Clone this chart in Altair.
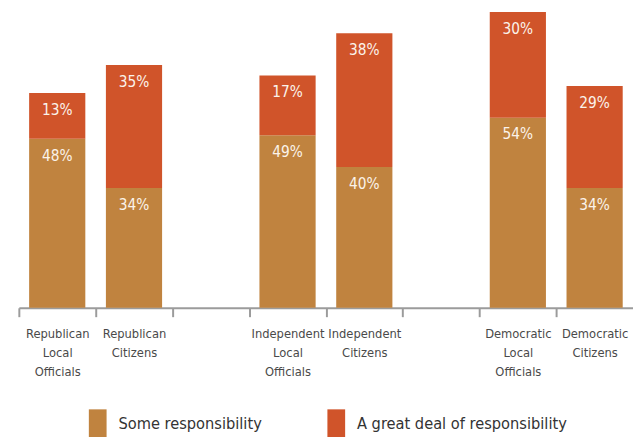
import altair as alt
import pandas as pd

categories = [
    "Republican|Local|Officials", "Republican|Citizens", "gap1",
    "Independent|Local|Officials", "Independent|Citizens", "gap2",
    "Democratic|Local|Officials", "Democratic|Citizens",
]
bar_categories = [c for c in categories if not c.startswith("gap")]
some_resp = [48, 34, 49, 40, 54, 34]
great_resp = [13, 35, 17, 38, 30, 29]
series = ["Some responsibility", "A great deal of responsibility"]
colors = ["#C0833F", "#D0542A"]

rows = []
for cat, s, g in zip(bar_categories, some_resp, great_resp):
    rows.append({"cat": cat, "series": series[0], "value": s, "rank": 0, "topv": s})
    rows.append({"cat": cat, "series": series[1], "value": g, "rank": 1, "topv": s + g})
df = pd.DataFrame(rows)
df["label"] = df["value"].astype(str) + "%"

FONT = "DejaVu Sans Condensed"
W = 623
STEP = W / len(categories)

x = alt.X("cat:N", scale=alt.Scale(domain=categories, paddingInner=0, paddingOuter=0),
          axis=alt.Axis(title=None, labelAngle=0, tickOffset=-STEP / 2, labelOffset=STEP / 2,
                        labelExpr="indexof(datum.value,'gap')==0 ? '' : split(datum.value,'|')"))
yscale = alt.Scale(domain=[0, 84], nice=False)

bars = alt.Chart(df).mark_bar(width=57).encode(
    x=x,
    y=alt.Y("value:Q", stack="zero", scale=yscale, axis=None),
    color=alt.Color("series:N", scale=alt.Scale(domain=series, range=colors),
                    legend=alt.Legend(title=None, orient="none", legendX=64, legendY=402,
                                      direction="horizontal")),
    order=alt.Order("rank:Q"),
)

texts = alt.Chart(df).mark_text(
    font=FONT, fontSize=15.5, color="#FBF3EA", baseline="middle", dy=17
).encode(
    x=x,
    y=alt.Y("topv:Q", scale=yscale, axis=None),
    text="label:N",
)

chart = alt.layer(bars, texts).properties(
    width=W, height=300,
    padding={"left": 10, "top": 1, "right": 0, "bottom": 0},
).configure_view(stroke=None).configure_axis(
    labelFont=FONT, labelFontSize=13, labelColor="#4a4a4a", labelLineHeight=19.5,
    labelPadding=11, tickSize=9, tickWidth=2, domainWidth=2,
    tickColor="#9b9b9b", domainColor="#9b9b9b",
    grid=False, labelLimit=300,
).configure_legend(
    symbolType="M-0.6,-1L0.6,-1L0.6,1L-0.6,1Z", symbolSize=900,
    labelFont=FONT, labelFontSize=16.5, labelColor="#333333",
    labelOffset=5, columnPadding=59, padding=0, labelLimit=400,
)

chart.save("out.html", embed_options={"renderer": "svg", "actions": False})
